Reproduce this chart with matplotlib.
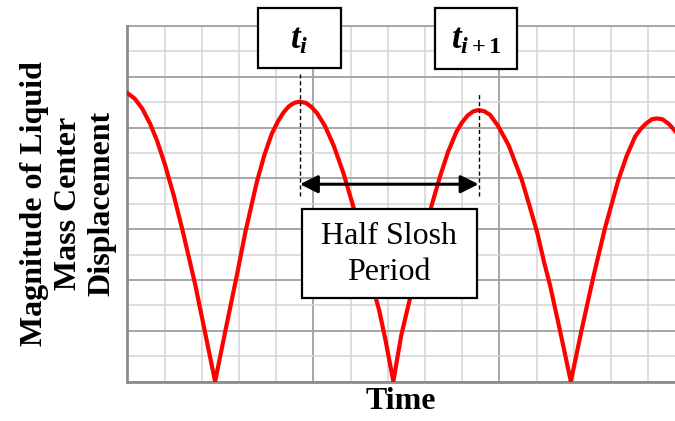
import matplotlib.pyplot as plt
from matplotlib.patches import Rectangle

plt.rcParams['font.family'] = 'Liberation Serif'
plt.rcParams['mathtext.fontset'] = 'custom'
plt.rcParams['mathtext.it'] = 'Liberation Serif:italic:bold'
plt.rcParams['mathtext.rm'] = 'Liberation Serif:bold'

# curve (x, y in grid units)
time = [0, 0.2, 0.4, 0.61, 0.8, 1.01, 1.25, 1.5, 1.82, 2.09, 2.36,
        2.65, 2.94, 3.18, 3.48, 3.68, 3.88, 4.05, 4.2, 4.35, 4.5, 4.64,
        4.8, 4.95, 5.1, 5.31, 5.55, 5.81, 6.08, 6.4, 6.6, 6.77, 6.93, 7.15,
        7.36, 7.57, 7.87, 8.18, 8.41, 8.62, 8.85, 9.0, 9.15, 9.3, 9.44,
        9.6, 9.75, 9.97, 10.25, 10.6, 10.8, 11.02, 11.2, 11.36, 11.63, 11.92,
        12.21, 12.53, 12.84, 13.2, 13.42, 13.65, 13.8, 13.95, 14.1, 14.23, 14.38, 14.55, 14.72]
disp = [11.36, 11.14, 10.75, 10.16, 9.48, 8.55, 7.32, 5.86, 3.85, 1.93, 0,
        2.1, 4.15, 5.93, 7.85, 8.9, 9.75, 10.25, 10.6, 10.85, 10.98, 11.02,
        10.97, 10.81, 10.57, 10.07, 9.28, 8.2, 6.86, 4.98, 3.72, 2.8, 1.7, 0,
        1.8, 3.1, 5.07, 6.94, 8.1, 9.04, 9.85, 10.21, 10.48, 10.64, 10.69,
        10.64, 10.5, 10.05, 9.3, 7.95, 6.97, 5.85, 4.71, 3.8, 2.0, 0,
        2.03, 4.15, 6.05, 7.95, 8.88, 9.65, 9.95, 10.17, 10.33, 10.36, 10.33, 10.15, 9.87]

t_i = 4.64
t_i1 = 9.44
arrow_y = 7.77

fig = plt.figure(figsize=(6.75, 4.21), dpi=100)
ax = fig.add_axes([0.1886, 0.0938, 0.8114, 0.8444])
ax.set_xlim(0, 14.72)
ax.set_ylim(0, 14)

# grid
for i in range(15):
    major = i % 5 == 0
    ax.axvline(i, color='#a6a6a6' if major else '#d4d4d4', lw=1.4 if major else 1.1, zorder=0)
for j in range(15):
    major = j % 2 == 0
    ax.axhline(j, color='#a6a6a6' if major else '#d4d4d4', lw=1.4 if major else 1.1, zorder=0, clip_on=False)

for s in ['top', 'right']:
    ax.spines[s].set_visible(False)
for s in ['left', 'bottom']:
    ax.spines[s].set_color('#8c8c8c')
    ax.spines[s].set_linewidth(2)
ax.set_xticks([])
ax.set_yticks([])

ax.plot(time, disp, color='red', lw=3, zorder=3, solid_joinstyle='round')

# dashed markers
ax.plot([t_i, t_i], [7.3, 12.1], color='k', lw=1, dashes=(3, 2), zorder=4, clip_on=False)
ax.plot([t_i1, t_i1], [7.3, 11.4], color='k', lw=1, dashes=(3, 2), zorder=4, clip_on=False)

ax.annotate('', xy=(t_i, arrow_y), xytext=(t_i1, arrow_y),
            arrowprops=dict(arrowstyle='<|-|>', color='k', lw=2.2, mutation_scale=27,
                            shrinkA=0, shrinkB=0), zorder=5)

# boxes
ax.add_patch(Rectangle((3.52, 12.33), 2.22, 2.36, facecolor='white', edgecolor='k',
                       lw=1.6, zorder=6, clip_on=False))
ax.text(4.63, 13.45, r'$t_{i}$', fontsize=25, ha='center', va='center', zorder=7)

ax.add_patch(Rectangle((8.27, 12.31), 2.21, 2.38, facecolor='white', edgecolor='k',
                       lw=1.6, zorder=6, clip_on=False))
ax.text(9.38, 13.45, r'$t_{i+1}$', fontsize=25, ha='center', va='center', zorder=7)

ax.add_patch(Rectangle((4.69, 3.28), 4.7, 3.51, facecolor='white', edgecolor='k',
                       lw=1.6, zorder=6))
ax.text(7.04, 5.0, 'Half Slosh\nPeriod', fontsize=23, ha='center', va='center',
        linespacing=1.3, zorder=7)

ax.set_xlabel('Time', fontsize=23, fontweight='bold', labelpad=4)
ax.set_ylabel('Magnitude of Liquid\nMass Center\nDisplacement', fontsize=23,
              fontweight='bold', linespacing=1.2, labelpad=8)

fig.savefig('out.png', dpi=100)
